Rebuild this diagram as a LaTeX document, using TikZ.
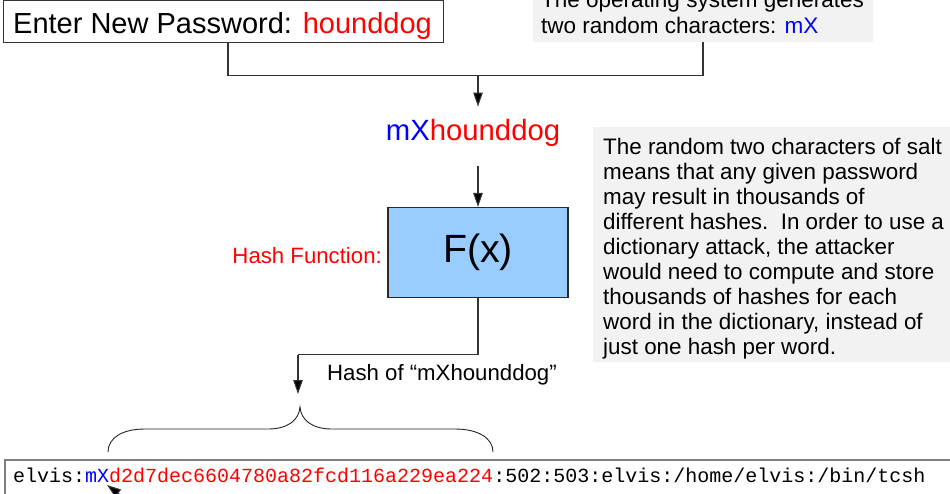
\documentclass[tikz,border=0pt]{standalone}
\usepackage{fontspec}
\setmainfont{Liberation Sans}
\setmonofont{Liberation Mono}
\usetikzlibrary{arrows.meta}
\definecolor{lineclr}{HTML}{333333}
\definecolor{notefill}{HTML}{F2F2F2}
\definecolor{hashfill}{HTML}{99CCFF}
\definecolor{saltblue}{HTML}{0000FF}
\definecolor{pwred}{HTML}{FF0000}
\newcommand{\fsz}[2]{\fontsize{#1}{#2}\selectfont}
\tikzset{
  conn/.style={draw=lineclr, line width=1.1pt},
  arr/.style={conn, -{Triangle[length=14pt,width=9.5pt,fill=black]}},
  txt/.style={inner sep=0pt, anchor=base west},
  notebox/.style={fill=notefill, draw=none, inner sep=0pt, anchor=north west},
}
\begin{document}
\begin{tikzpicture}[x=1pt,y=-1pt]
\useasboundingbox (0,0) rectangle (950,493);
\clip (0,0) rectangle (950,493);
\fill[white] (0,0) rectangle (950,493);

% top password box
\node[draw=lineclr, line width=1.1pt, minimum width=440pt, minimum height=42pt, inner sep=0pt, anchor=north west] (pw) at (3,0) {};
\node[txt, font=\fsz{29}{30}] (pwtext) at (13,33) {Enter New Password: \textcolor{pwred}{hounddog}};

% top note box
\node[notebox, minimum width=340pt, minimum height=50pt] (osnote) at (533,-8) {};
\node[txt, font=\fsz{22.5}{25.5}] (ostext) at (541,33) {\parbox[b]{330pt}{\raggedright The operating system generates\\two random characters: \textcolor{saltblue}{mX}}};

% connectors from the two top boxes
\coordinate (j1) at (478,75.5);
\draw[conn] (pw.south -| 228,0) |- (j1) -| (osnote.south -| 703,0);

% salted password
\node[inner xsep=0pt, inner ysep=12pt, anchor=base, font=\fsz{29.3}{30}] (salted) at (473,140) {\textcolor{saltblue}{mX}\textcolor{pwred}{hounddog}};
\draw[arr] (j1) -- (salted.north -| j1);

% hash function box
\node[draw=lineclr!80!black, line width=1.1pt, fill=hashfill, minimum width=180pt, minimum height=90pt, inner sep=0pt, font=\fsz{39.4}{40}] (hf) at (478,252.5) {F(x)};
\draw[arr] ([yshift=-8pt]salted.south -| j1) -- (hf.north);
\node[inner sep=0pt, anchor=base east, font=\fsz{22.2}{24}, text=pwred] (hflabel) at (382,263) {Hash Function:};

% output connector
\coordinate (j2) at (298,354.5);
\coordinate (hashtip) at (298,394);
\draw[conn] (hf.south) |- (j2);
\draw[arr] (j2) -- (hashtip);
\node[txt, font=\fsz{22.2}{24}] (hashlabel) at (327,380) {Hash of “mXhounddog”};

% brace
\draw[line width=0.9pt, draw=black!85] (108,452) .. controls (108,438) and (122,429) .. (145,429)
  -- (268,429) .. controls (288,429) and (299,420) .. (300,407)
  .. controls (301,420) and (312,429) .. (332,429)
  -- (455,429) .. controls (478,429) and (493,438) .. (493,452);

% bottom passwd line
\node[draw=black!50, line width=1.6pt, minimum width=960pt, minimum height=45pt, inner sep=0pt, anchor=north west] (passwd) at (4,459) {};
\node[txt, font=\ttfamily\fsz{20}{22}] (passwdtext) at (13,482) {elvis:\textcolor{saltblue}{mX}\textcolor{pwred}{d2d7dec6604780a82fcd116a229ea224}:502:503:elvis:/home/elvis:/bin/tcsh};
\coordinate (sfrom) at (135,506);
\coordinate (sto) at (107,485);
\draw[arr] (sfrom) -- (sto);

% right explanatory note
\node[notebox, minimum width=360pt, minimum height=235pt] (saltnote) at (593,127) {};
\node[txt, font=\fsz{22.4}{25.1}] (salttext) at (603,154) {\parbox[t]{345pt}{\raggedright The random two characters of salt\\means that any given password\\may result in thousands of\\different hashes.\ \ In order to use a\\dictionary attack, the attacker\\would need to compute and store\\thousands of hashes for each\\word in the dictionary, instead of\\just one hash per word.}};
\end{tikzpicture}
\end{document}
